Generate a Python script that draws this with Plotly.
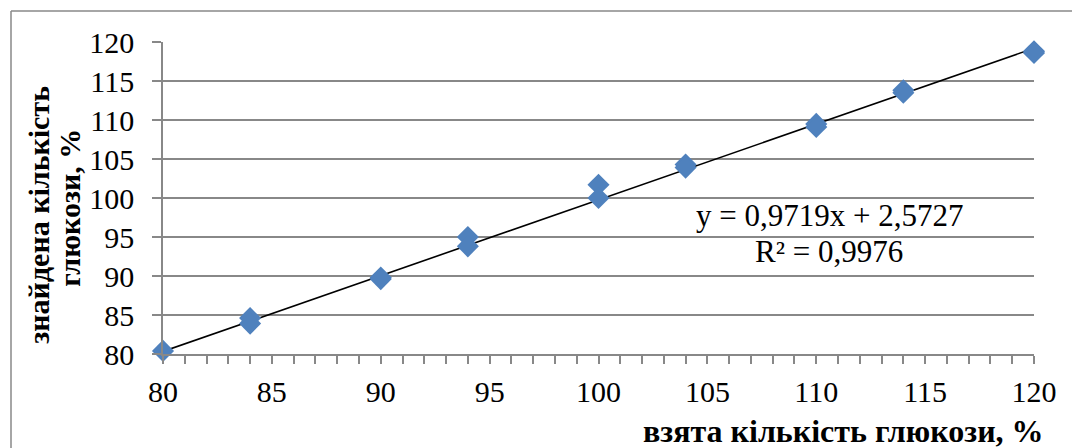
import plotly.graph_objects as go

# Glucose recovery: amount taken vs amount found (percent)
x_taken = [80, 84, 84, 90, 90, 94, 94, 100, 100, 104, 104, 110, 110, 114, 114, 120, 120]
y_found = [80.4, 84.6, 83.9, 89.8, 89.6, 95.0, 93.8, 101.7, 100.0, 104.3, 103.9,
           109.5, 109.1, 113.8, 113.5, 118.8, 118.6]

# Linear trendline coefficients
slope = 0.9719
intercept = 2.5727
trend_x = [80, 120]
trend_y = [slope * v + intercept for v in trend_x]

x_ticks = [80, 85, 90, 95, 100, 105, 110, 115, 120]
y_ticks = [80, 85, 90, 95, 100, 105, 110, 115, 120]

W, H = 1072, 448
ML, MR, MT, MB = 163, 38, 42, 93.5
PW, PH = W - ML - MR, H - MT - MB


def px(xp):
    return (xp - ML) / PW


def py(yp):
    return (H - MB - yp) / PH


FONT = "'Liberation Serif', 'Times New Roman', 'DejaVu Serif', serif"
GRID = "#888888"

fig = go.Figure()
fig.add_trace(go.Scatter(
    x=trend_x, y=trend_y, mode="lines",
    line=dict(color="black", width=1.6),
    hoverinfo="skip", showlegend=False, cliponaxis=False,
))
fig.add_trace(go.Scatter(
    x=x_taken, y=y_found, mode="markers",
    marker=dict(symbol="diamond", size=17, color="#4F81BD",
                line=dict(width=0)),
    showlegend=False, cliponaxis=False,
))


def note(text, x, y, size, **kw):
    return dict(text=text, x=px(x), y=py(y), xref="paper", yref="paper",
                showarrow=False, font=dict(family=FONT, size=size, color="black"),
                **kw)


fig.update_layout(
    width=W, height=H,
    margin=dict(l=ML, r=MR, t=MT, b=MB, pad=0),
    paper_bgcolor="white", plot_bgcolor="white",
    font=dict(family=FONT, size=30, color="black"),
    xaxis=dict(
        range=[80, 120], tickvals=x_ticks, ticktext=[str(v) for v in x_ticks],
        showgrid=False, zeroline=False,
        showline=True, linecolor=GRID, linewidth=1.5,
        ticks="outside", ticklen=8, tickcolor=GRID, tickwidth=1.5,
        minor=dict(dtick=1, ticks="outside", ticklen=8, tickcolor=GRID,
                   tickwidth=1.5, showgrid=False),
        ticklabelstandoff=2,
        tickfont=dict(family=FONT, size=30, color="black"),
    ),
    yaxis=dict(
        range=[80, 120], tickvals=y_ticks, ticktext=[str(v) for v in y_ticks],
        showgrid=True, gridcolor=GRID, gridwidth=1.5, zeroline=False,
        showline=True, linecolor=GRID, linewidth=1.5,
        ticks="outside", ticklen=9, tickcolor=GRID, tickwidth=1.5,
        ticklabelstandoff=12,
        tickfont=dict(family=FONT, size=30, color="black"),
    ),
    shapes=[
        # chart border (top and left edges)
        dict(type="line", xref="paper", yref="paper",
             x0=px(11), x1=px(W + 5), y0=py(11), y1=py(11),
             line=dict(color=GRID, width=1.5)),
        dict(type="line", xref="paper", yref="paper",
             x0=px(11), x1=px(11), y0=py(11), y1=py(H + 5),
             line=dict(color=GRID, width=1.5)),
    ],
    annotations=[
        note("y = 0,9719x + 2,5727", 829, 216, 31, xanchor="center", yanchor="middle"),
        note("R² = 0,9976", 829, 252, 31, xanchor="center", yanchor="middle"),
        note("<b>знайдена кількість</b>", 39, 215, 30,
             xanchor="center", yanchor="middle", textangle=-90),
        note("<b>глюкози, %</b>", 70, 208, 30,
             xanchor="center", yanchor="middle", textangle=-90),
        note("<b>взята кількість глюкози, %</b>", 1046, 432, 32,
             xanchor="right", yanchor="middle"),
    ],
)

fig.write_html("out.html")
